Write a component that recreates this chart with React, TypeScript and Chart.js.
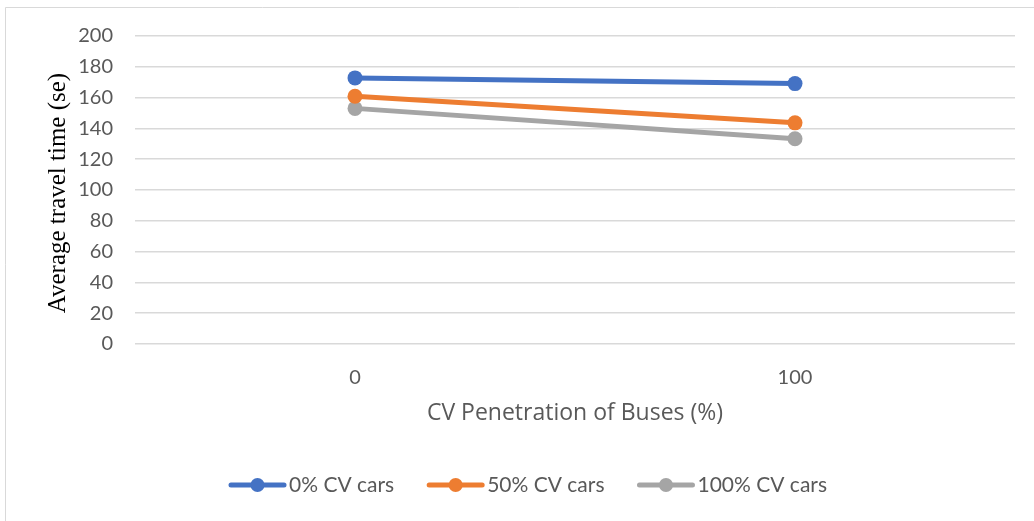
import React, { useEffect, useRef } from "react";
import { Chart, registerables } from "chart.js";

Chart.register(...registerables);

const categories = ["0", "100"];
const seriesNames = ["0% CV cars", "50% CV cars", "100% CV cars"];
const cv0Values = [172.8, 169.1];
const cv50Values = [160.9, 143.6];
const cv100Values = [153.0, 133.3];
const seriesColors = ["#4472C4", "#ED7D31", "#A5A5A5"];
const yMin = 0;
const yMax = 200;
const yStep = 20;
const xTitle = "CV Penetration of Buses (%)";
const yTitle = "Average travel time (se)";

const SANS = "Lato, 'Open Sans', sans-serif";
const TEXT = "#595959";

const decoPlugin = {
  id: "deco",
  beforeDraw(chart: any) {
    const ctx = chart.ctx;
    ctx.save();
    ctx.fillStyle = "#ffffff";
    ctx.fillRect(0, 0, chart.width, chart.height);
    ctx.strokeStyle = "#d9d9d9";
    ctx.lineWidth = 1;
    ctx.beginPath();
    ctx.moveTo(5.5, chart.height);
    ctx.lineTo(5.5, 7.5);
    ctx.lineTo(chart.width, 7.5);
    ctx.stroke();
    ctx.restore();
  },
  afterDraw(chart: any) {
    const { ctx, chartArea } = chart;
    ctx.save();
    // Y title
    ctx.translate(58, 193);
    ctx.rotate(-Math.PI / 2);
    ctx.font = "25px 'Liberation Serif', 'Times New Roman', serif";
    ctx.fillStyle = "#000000";
    ctx.textAlign = "center";
    ctx.textBaseline = "middle";
    ctx.fillText(yTitle, 0, 0);
    ctx.restore();

    // X title
    ctx.save();
    ctx.font = "23px 'Open Sans', sans-serif";
    ctx.fillStyle = TEXT;
    ctx.textAlign = "center";
    ctx.textBaseline = "middle";
    ctx.fillText(xTitle, (chartArea.left + chartArea.right) / 2, 413);
    ctx.restore();

    // Legend
    ctx.save();
    ctx.font = "21px " + SANS;
    const lineLen = 57;
    const gapText = 3;
    const gapItem = 33;
    const datasets = chart.data.datasets;
    const widths = datasets.map((d: any) => lineLen + gapText + ctx.measureText(d.label).width);
    const total = widths.reduce((a: number, b: number) => a + b, 0) + gapItem * (datasets.length - 1);
    let x = 528 - total / 2;
    const y = 485;
    datasets.forEach((d: any, i: number) => {
      ctx.strokeStyle = d.borderColor;
      ctx.lineWidth = 5;
      ctx.lineCap = "round";
      ctx.beginPath();
      ctx.moveTo(x + 2, y);
      ctx.lineTo(x + lineLen - 2, y);
      ctx.stroke();
      ctx.fillStyle = d.borderColor;
      ctx.beginPath();
      ctx.arc(x + lineLen / 2, y, 7, 0, Math.PI * 2);
      ctx.fill();
      ctx.fillStyle = TEXT;
      ctx.textAlign = "left";
      ctx.textBaseline = "middle";
      ctx.fillText(d.label, x + lineLen + gapText, y);
      x += widths[i] + gapItem;
    });
    ctx.restore();
  },
};

export default function App() {
  const canvasRef = useRef<HTMLCanvasElement | null>(null);

  useEffect(() => {
    if (!canvasRef.current) return;
    const values = [cv0Values, cv50Values, cv100Values];
    const chart = new Chart(canvasRef.current, {
      type: "line",
      data: {
        labels: categories,
        datasets: seriesNames.map((name, i) => ({
          label: name,
          data: values[i],
          borderColor: seriesColors[i],
          backgroundColor: seriesColors[i],
          borderWidth: 5,
          pointRadius: 7.5,
          pointHoverRadius: 7.5,
          pointBorderWidth: 0,
          pointBackgroundColor: seriesColors[i],
          tension: 0,
          fill: false,
        })),
      },
      options: {
        animation: false,
        responsive: false,
        maintainAspectRatio: false,
        layout: { padding: { left: 0, right: 19, top: 36, bottom: 0 } },
        plugins: {
          legend: { display: false },
          tooltip: { enabled: false },
          title: { display: false },
        },
        scales: {
          x: {
            type: "category",
            offset: true,
            grid: { display: false, drawTicks: false },
            border: { display: false },
            ticks: {
              padding: 22,
              color: TEXT,
              font: { family: SANS, size: 20 },
              maxRotation: 0,
            },
            afterFit: (scale: any) => {
              scale.height = 177;
            },
          },
          y: {
            min: yMin,
            max: yMax,
            grid: { color: "#d9d9d9", lineWidth: 1.5, drawTicks: false },
            border: { display: false },
            ticks: {
              stepSize: yStep,
              padding: 22,
              color: TEXT,
              font: { family: SANS, size: 20 },
            },
            afterFit: (scale: any) => {
              scale.width = 135;
            },
          },
        },
      },
      plugins: [decoPlugin],
    });
    return () => chart.destroy();
  }, []);

  return (
    <div style={{ position: "absolute", left: 0, top: 0, width: 1034, height: 521 }}>
      <canvas ref={canvasRef} width={1034} height={521} style={{ width: 1034, height: 521, display: "block" }} />
    </div>
  );
}
